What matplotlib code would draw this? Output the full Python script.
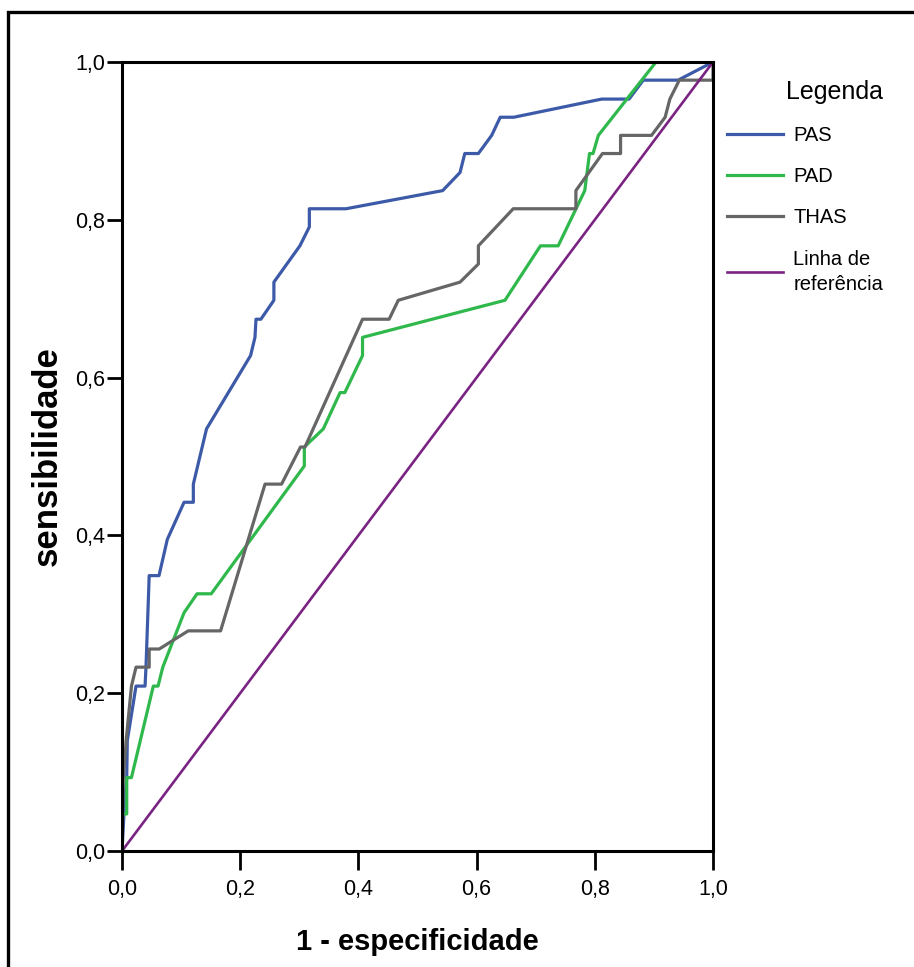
import matplotlib
matplotlib.use("Agg")
from matplotlib import pyplot as plt
from matplotlib.patches import Rectangle

plt.rcParams['font.family'] = ['Liberation Sans', 'DejaVu Sans']

# ROC curves (x = 1 - especificidade, y = sensibilidade)
pas_x = [0, 0.005, 0.008, 0.009, 0.0237, 0.039, 0.0406, 0.046, 0.0626, 0.0767, 0.105, 0.1207,
         0.1207, 0.143, 0.2176, 0.225, 0.2267, 0.235, 0.257, 0.257, 0.301, 0.317, 0.317, 0.379,
         0.5426, 0.572, 0.580, 0.603, 0.6255, 0.640, 0.663, 0.8116, 0.858, 0.882, 0.941, 1.0]
pas_y = [0, 0.07, 0.093, 0.14, 0.209, 0.209, 0.233, 0.349, 0.349, 0.395, 0.442, 0.442,
         0.465, 0.535, 0.628, 0.651, 0.674, 0.674, 0.698, 0.721, 0.767, 0.791, 0.814, 0.814,
         0.837, 0.860, 0.884, 0.884, 0.907, 0.930, 0.930, 0.953, 0.953, 0.977, 0.977, 1.0]

pad_x = [0, 0, 0.008, 0.008, 0.016, 0.053, 0.061, 0.069, 0.105, 0.127, 0.151, 0.3085, 0.3085,
         0.3406, 0.369, 0.377, 0.407, 0.407, 0.648, 0.708, 0.738, 0.783, 0.791, 0.797, 0.806,
         0.9036, 1.0]
pad_y = [0, 0.047, 0.047, 0.093, 0.093, 0.209, 0.209, 0.233, 0.302, 0.326, 0.326, 0.488, 0.512,
         0.535, 0.581, 0.581, 0.628, 0.651, 0.698, 0.767, 0.767, 0.837, 0.884, 0.884, 0.907,
         1.0, 1.0]

thas_x = [0, 0.002, 0.007, 0.016, 0.0237, 0.046, 0.046, 0.063, 0.112, 0.1668, 0.242, 0.270,
          0.302, 0.3096, 0.407, 0.452, 0.4675, 0.572, 0.603, 0.603, 0.662, 0.768, 0.768, 0.813,
          0.8436, 0.8436, 0.896, 0.919, 0.927, 0.943, 1.0, 1.0]
thas_y = [0, 0.09, 0.14, 0.209, 0.233, 0.233, 0.256, 0.256, 0.279, 0.279, 0.465, 0.465,
          0.512, 0.512, 0.674, 0.674, 0.698, 0.721, 0.744, 0.767, 0.814, 0.814, 0.837, 0.884,
          0.884, 0.907, 0.907, 0.930, 0.953, 0.977, 0.977, 1.0]

ref_x = [0, 1]
ref_y = [0, 1]

ticks = [0.0, 0.2, 0.4, 0.6, 0.8, 1.0]
tick_labels = ["0,0", "0,2", "0,4", "0,6", "0,8", "1,0"]

fig = plt.figure(figsize=(9.14, 9.67), dpi=100)
ax = fig.add_axes([122/914, 1 - 851/967, (713-122)/914, (851-62)/967])

ax.plot(pas_x, pas_y, color="#3c5aa8", lw=2.3, label="PAS")
ax.plot(pad_x, pad_y, color="#2fb84b", lw=2.3, label="PAD")
ax.plot(thas_x, thas_y, color="#666666", lw=2.3, label="THAS")
ax.plot(ref_x, ref_y, color="#7a2382", lw=1.9, label="Linha de\nreferência")

ax.set_xlim(0, 1)
ax.set_ylim(0, 1)
ax.set_xticks(ticks)
ax.set_xticklabels(tick_labels)
ax.set_yticks(ticks)
ax.set_yticklabels(tick_labels)
ax.tick_params(axis="x", length=14, width=2, labelsize=15.5, pad=6)
ax.tick_params(axis="y", length=11, width=2, labelsize=15.5, pad=1)
for s in ax.spines.values():
    s.set_linewidth(2.2)

ax.set_xlabel("1 - especificidade", fontsize=21, fontweight="bold", labelpad=20)
ax.set_ylabel("sensibilidade", fontsize=25, fontweight="bold", labelpad=8)

leg = ax.legend(loc="upper left", bbox_to_anchor=(727/914, 1 - 80/967),
                bbox_transform=fig.transFigure, frameon=False, borderpad=0, borderaxespad=0,
                title="Legenda", title_fontsize=18, fontsize=14.5, alignment="right",
                handlelength=2.8, handletextpad=0.5, labelspacing=1.1)
for t in leg.get_texts():
    t.set_linespacing(1.45)

# outer frame
fig.patches.append(Rectangle((8/914, -0.1), 1.2, 1 - 12/967 + 0.1, transform=fig.transFigure,
                             fill=False, edgecolor="black", lw=2.4))

fig.savefig("out.png", dpi=100)
